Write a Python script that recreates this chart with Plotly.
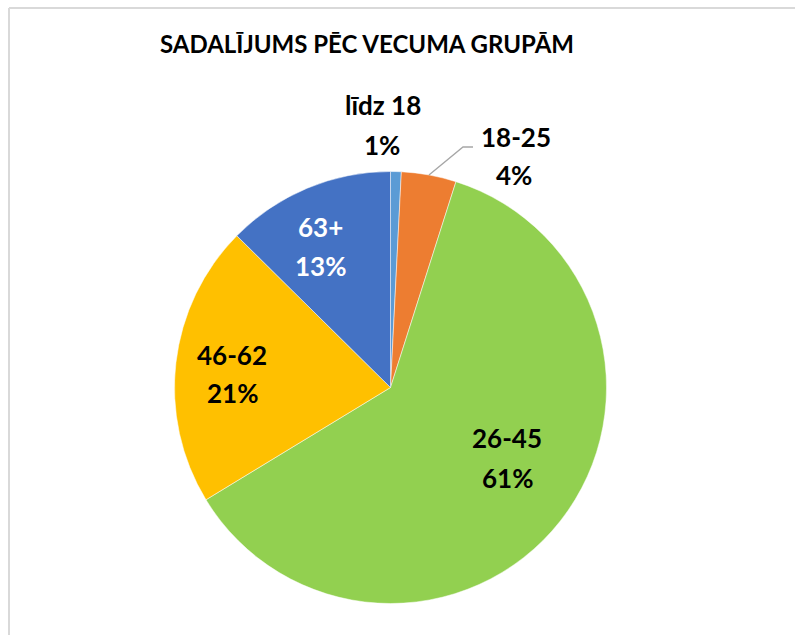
import math
import plotly.graph_objects as go

categories = ["līdz 18", "18-25", "26-45", "46-62", "63+"]
values = [0.8, 4.1, 61.4, 21.1, 12.6]
colors = ["#5B9BD5", "#ED7D31", "#92D050", "#FFC000", "#4472C4"]
title_text = "SADALĪJUMS PĒC VECUMA GRUPĀM"

W, H = 795, 635
CX, CY, R = 390.5, 387.5, 216.0   # pixel position of the pie
FONT = "Lato"


def px(x):
    return x / W


def py(y):
    return 1 - y / H


total = sum(values)
pct = [f"{round(v / total * 100):.0f}%" for v in values]

fig = go.Figure(go.Pie(
    labels=categories,
    values=values,
    sort=False,
    direction="clockwise",
    rotation=0,
    marker=dict(colors=colors, line=dict(color="white", width=0.5)),
    textinfo="none",
    hoverinfo="label+percent",
    showlegend=False,
    domain=dict(x=[px(CX - R), px(CX + R)], y=[py(CY + R), py(CY - R)]),
))

# label centres (pixels) for name and percentage lines
label_pos = [((383, 105), (382, 145)),
             ((516, 137), (514, 175)),
             ((507, 438), (507, 478)),
             ((232, 355), (232, 393)),
             ((320, 227), (320, 266))]
label_colors = ["black", "black", "black", "black", "white"]

annotations = [
    dict(text=f"<b>{title_text}</b>", x=px(366.5), y=py(43), xref="paper", yref="paper",
         showarrow=False, font=dict(family=FONT, size=24, color="black"),
         xanchor="center", yanchor="middle"),
]
for cat, p, (pos1, pos2), col in zip(categories, pct, label_pos, label_colors):
    for txt, (x, y) in ((cat, pos1), (p, pos2)):
        annotations.append(dict(text=f"<b>{txt}</b>", x=px(x), y=py(y), xref="paper", yref="paper",
                                showarrow=False, font=dict(family=FONT, size=26, color=col),
                                xanchor="center", yanchor="middle"))

# leader line for the 18-25 slice, starting at its mid-angle on the rim
mid = (values[0] + values[1] / 2) / total * 2 * math.pi
sx, sy = CX + R * math.sin(mid), CY - R * math.cos(mid)
path = f"M {px(sx)} {py(sy)} L {px(463)} {py(147)} L {px(473)} {py(147)}"

# chart-area border: only its left and top edges fall inside the window
shapes = [
    dict(type="path", path=path, xref="paper", yref="paper",
         line=dict(color="#A6A6A6", width=1.3)),
    dict(type="line", xref="paper", yref="paper", x0=px(9), x1=px(9), y0=0, y1=py(8),
         line=dict(color="#D9D9D9", width=2)),
    dict(type="line", xref="paper", yref="paper", x0=px(9), x1=1, y0=py(8), y1=py(8),
         line=dict(color="#D9D9D9", width=2)),
]

fig.update_layout(
    width=W, height=H,
    margin=dict(l=0, r=0, t=0, b=0),
    paper_bgcolor="white",
    plot_bgcolor="white",
    annotations=annotations,
    shapes=shapes,
)

fig.write_html(
    "out.html",
    config={"displayModeBar": False},
    post_script="document.body.style.margin='0';document.body.style.overflow='hidden';"
                "document.body.style.background='white';",
)
